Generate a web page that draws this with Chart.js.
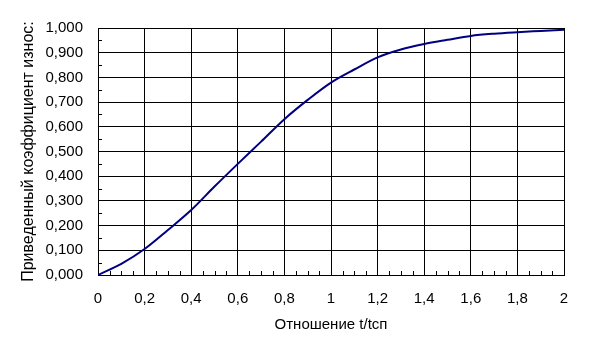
<!DOCTYPE html>
<html>
<head>
<meta charset="utf-8">
<script src="https://cdn.jsdelivr.net/npm/chart.js@4"></script>
<style>
  body { margin: 0; background: #fff; }
  canvas { display: block; }
</style>
</head>
<body>
<canvas id="wearChart" width="592" height="356"></canvas>
<script>
const ratio = [0, 0.1, 0.2, 0.3, 0.4, 0.5, 0.6, 0.7, 0.8, 0.9, 1.0, 1.1, 1.2, 1.3, 1.4, 1.5, 1.6, 1.7, 1.8, 1.9, 2.0];
const wear = [0, 0.045, 0.105, 0.182, 0.263, 0.358, 0.450, 0.540, 0.631, 0.709, 0.779, 0.832, 0.881, 0.913, 0.935, 0.952, 0.968, 0.977, 0.983, 0.988, 0.993];
const xMinorTicks = [0.05, 0.1, 0.15, 0.25, 0.3, 0.35, 0.45, 0.5, 0.55, 0.65, 0.7, 0.75, 0.85, 0.9, 0.95,
  1.05, 1.1, 1.15, 1.25, 1.3, 1.35, 1.45, 1.5, 1.55, 1.65, 1.7, 1.75, 1.85, 1.9, 1.95];
const yMinorTicks = [0.05, 0.15, 0.25, 0.35, 0.45, 0.55, 0.65, 0.75, 0.85, 0.95];

const FONT = "Arial, 'Liberation Sans', sans-serif";

// short inner ticks between the grid lines, like the Excel original
const minorTicks = {
  id: "minorTicks",
  beforeDatasetsDraw(chart) {
    const ctx = chart.ctx;
    const x = chart.scales.x;
    const y = chart.scales.y;
    const area = chart.chartArea;
    ctx.save();
    ctx.strokeStyle = "#000";
    ctx.lineWidth = 1;
    ctx.beginPath();
    xMinorTicks.forEach((v) => {
      const px = Math.round(x.getPixelForValue(v)) + 0.5;
      ctx.moveTo(px, area.bottom);
      ctx.lineTo(px, area.bottom - 4);
    });
    yMinorTicks.forEach((v) => {
      const py = Math.round(y.getPixelForValue(v)) + 0.5;
      ctx.moveTo(area.left, py);
      ctx.lineTo(area.left + 4, py);
    });
    ctx.stroke();
    ctx.restore();
  }
};

const ctx = document.getElementById("wearChart").getContext("2d");
const chart = new Chart(ctx, {
  type: "line",
  data: {
    datasets: [{
      label: "wear",
      data: ratio.map((t, i) => ({ x: t, y: wear[i] })),
      borderColor: "#000080",
      borderWidth: 2,
      pointRadius: 0,
      fill: false,
      cubicInterpolationMode: "monotone",
    }],
  },
  options: {
    responsive: false,
    animation: false,
    layout: {
      padding: { left: 0, right: 28, top: 28, bottom: 0 },
    },
    plugins: {
      legend: { display: false },
      tooltip: { enabled: false },
    },
    scales: {
      x: {
        type: "linear",
        min: 0,
        max: 2,
        afterFit: (scale) => { scale.height = 81; },
        ticks: {
          stepSize: 0.2,
          padding: 16,
          color: "#000",
          font: { family: FONT, size: 15, lineHeight: 1 },
          callback: (v) => String(Math.round(v * 10) / 10).replace(".", ","),
        },
        grid: { color: "#000", lineWidth: 1, drawTicks: false },
        border: { color: "#000", width: 1 },
        title: {
          display: true,
          text: "Отношение t/tcп",
          color: "#000",
          font: { family: FONT, size: 15, lineHeight: 1 },
          padding: { top: 0, bottom: 24 },
        },
      },
      y: {
        type: "linear",
        min: 0,
        max: 1,
        afterFit: (scale) => { scale.width = 98; },
        ticks: {
          stepSize: 0.1,
          padding: 15,
          color: "#000",
          font: { family: FONT, size: 15, lineHeight: 1 },
          callback: (v) => v.toFixed(3).replace(".", ","),
        },
        grid: { color: "#000", lineWidth: 1, drawTicks: false },
        border: { color: "#000", width: 1 },
        title: {
          display: true,
          text: "Приведенный коэффициент износ:",
          color: "#000",
          font: { family: FONT, size: 16, lineHeight: 1 },
          padding: { top: 21, bottom: 0 },
        },
      },
    },
  },
  plugins: [minorTicks],
});
</script>
</body>
</html>
